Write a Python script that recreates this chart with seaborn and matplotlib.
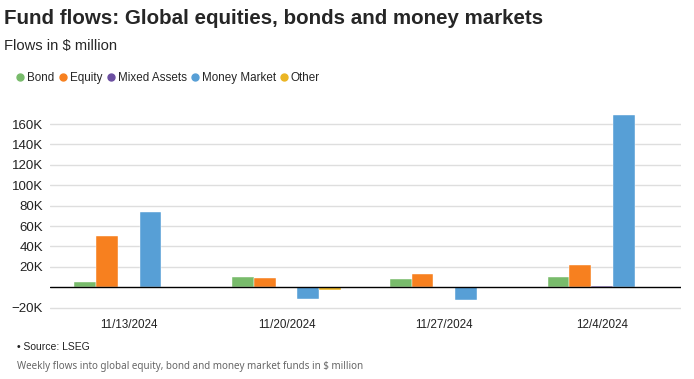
import matplotlib
matplotlib.use("Agg")
import matplotlib.pyplot as plt
from matplotlib.lines import Line2D
import seaborn as sns
import pandas as pd

### data (in $ million)
weeks = ["11/13/2024", "11/20/2024", "11/27/2024", "12/4/2024"]
categories = ["Bond", "Equity", "Mixed Assets", "Money Market", "Other"]
bond = [5500, 10100, 8100, 10400]
equity = [50600, 9400, 13000, 21500]
mixed = [-900, 300, -900, 900]
money = [73500, -11800, -12500, 169000]
other = [0, -2400, 0, -700]
yticks = [-20000, 20000, 40000, 60000, 80000, 100000, 120000, 140000, 160000]
colors = ["#78bb6b", "#f7801f", "#6c4fa1", "#579fd6", "#ebb523"]

rows = []
for cat, vals in zip(categories, [bond, equity, mixed, money, other]):
    for w, v in zip(weeks, vals):
        rows.append({"week": w, "category": cat, "flow": v})
df = pd.DataFrame(rows)

sns.set_style("white")
plt.rcParams["font.family"] = ["Liberation Sans", "DejaVu Sans"]

fig = plt.figure(figsize=(6.94, 3.79), dpi=100)
ax = fig.add_axes([0.072, 0.172, 0.909, 0.541])

sns.barplot(data=df, x="week", y="flow", hue="category", order=weeks,
            hue_order=categories, palette=colors, width=0.69, gap=0,
            edgecolor="#ffffff", linewidth=0.3, saturation=1, errorbar=None,
            legend=False, ax=ax)

ax.set_ylim(-26000, 175000)
ax.set_xlim(-0.5, 3.5)
ax.set_yticks(yticks)
ax.set_yticklabels([f"{int(t/1000)}K".replace("-", "\u2212") for t in yticks])
ax.grid(axis="y", color="#dedede", linewidth=1)
ax.set_axisbelow(True)
ax.axhline(0, color="black", linewidth=1)
for s in ax.spines.values():
    s.set_visible(False)
ax.tick_params(axis="both", length=0, labelsize=9.5, colors="#222222")
ax.tick_params(axis="y", pad=5)
ax.tick_params(axis="x", pad=4, labelsize=8.4)
ax.set_xlabel("")
ax.set_ylabel("")

### titles
fig.text(0.006, 0.952, "Fund flows: Global equities, bonds and money markets",
         fontsize=14.8, fontweight="bold", va="center")
fig.text(0.006, 0.878, "Flows in $ million", fontsize=10.6, va="center")

### legend
handles = [Line2D([], [], marker="o", linestyle="", color=c, markersize=5)
           for c in colors]
fig.legend(handles, categories, loc="center left", bbox_to_anchor=(0.016, 0.794),
           ncol=5, frameon=False, fontsize=8.4, handletextpad=0.2,
           columnspacing=0.3, handlelength=0.8, borderaxespad=0)

### footer
fig.text(0.024, 0.084, "\u2022 Source: LSEG", fontsize=7.5, va="center", color="#222222")
fig.text(0.024, 0.032, "Weekly flows into global equity, bond and money market funds in $ million",
         fontsize=7.1, va="center", color="#666666", family=["Noto Sans", "DejaVu Sans"])

fig.savefig("out.png", dpi=100)
